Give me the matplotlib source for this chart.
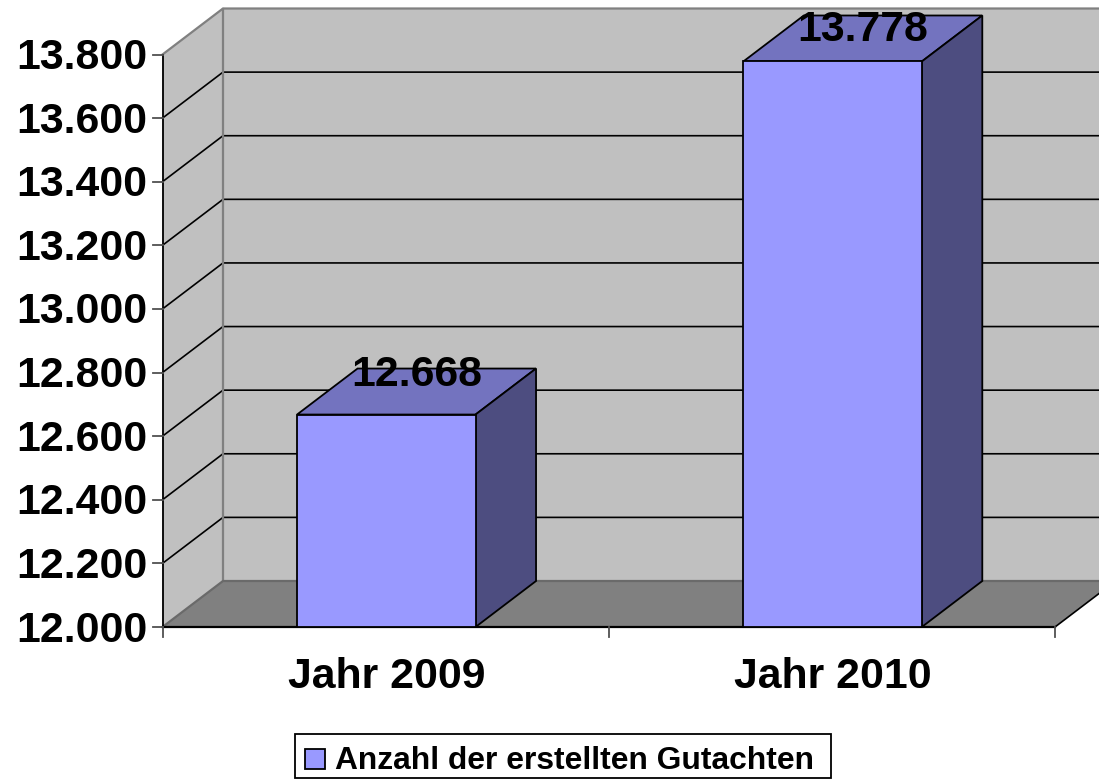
import matplotlib
matplotlib.use("Agg")
import matplotlib.pyplot as plt
from matplotlib.patches import Rectangle

categories = ["Jahr 2009", "Jahr 2010"]
values = [12668, 13778]
value_labels = ["12.668", "13.778"]
y_ticks = [12000, 12200, 12400, 12600, 12800, 13000, 13200, 13400, 13600, 13800]
y_tick_labels = ["12.000", "12.200", "12.400", "12.600", "12.800", "13.000", "13.200", "13.400", "13.600", "13.800"]
series_name = "Anzahl der erstellten Gutachten"

W, H = 1099, 780
plt.rcParams["font.family"] = ["Liberation Sans", "DejaVu Sans"]
plt.rcParams["font.weight"] = "bold"

fig = plt.figure(figsize=(W / 100, H / 100), dpi=100, facecolor="white")
# front plane of the fake 3d box, in pixels
left, right, top, bottom = 162.5, 1055.0, 54.5, 627.0
ax = fig.add_axes([left / W, 1 - bottom / H, (right - left) / W, (bottom - top) / H])
ax.set_xlim(0, 2)
ax.set_ylim(12000, 13800)
ax.axis("off")

# depth of the box in data units
dx = 2 * 60.5 / (right - left)
dy = 1800 * 46 / (bottom - top)
y0, y1 = 12000, 13800

wall = "#C0C0C0"
floor = "#808080"
edge = "#808080"
grid = "#000000"
front = "#9999FF"
roof = "#7373BF"
side = "#4D4D80"

# side wall, back wall, floor
ax.fill([0, dx, dx, 0], [y0, y0 + dy, y1 + dy, y1], color=wall, lw=0, clip_on=False, zorder=1)
ax.fill([dx, 2 + dx, 2 + dx, dx], [y0 + dy, y0 + dy, y1 + dy, y1 + dy], color=wall, lw=0, clip_on=False, zorder=1)
ax.fill([0, 2, 2 + dx, dx], [y0, y0, y0 + dy, y0 + dy], color=floor, lw=0, clip_on=False, zorder=2)

# grid lines on the walls
for t in y_ticks[1:-1]:
    ax.plot([0, dx, 2 + dx], [t, t + dy, t + dy], color=grid, lw=1.2, clip_on=False, zorder=3)
ax.plot([0, dx, 2 + dx], [y1, y1 + dy, y1 + dy], color=edge, lw=1.6, clip_on=False, zorder=3)
ax.plot([dx, dx], [y0 + dy, y1 + dy], color=edge, lw=1.6, clip_on=False, zorder=3)
ax.plot([0, dx, 2 + dx], [y0, y0 + dy, y0 + dy], color="#6a6a6a", lw=1.6, clip_on=False, zorder=3)
ax.plot([2, 2 + dx], [y0, y0 + dy], color="black", lw=1.2, clip_on=False, zorder=3)

# axis lines and ticks
ax.plot([0, 0], [y0, y1], color="black", lw=1.3, clip_on=False, zorder=4)
ax.plot([0, 2], [y0, y0], color="black", lw=1.6, clip_on=False, zorder=4)
tick_dx = 2 * 9.5 / (right - left)
tick_dy = 1800 * 9.5 / (bottom - top)
for t, lab in zip(y_ticks, y_tick_labels):
    ax.plot([-tick_dx, 0], [t, t], color="#505050", lw=1.3, clip_on=False, zorder=4)
    ax.annotate(lab, (0, t), xytext=(-15 * 0.72, -3.5 * 0.72), textcoords="offset points", ha="right", va="center",
                fontsize=30.8, color="black", annotation_clip=False, zorder=6)
for x in [0, 1, 2]:
    ax.plot([x, x], [y0, y0 - tick_dy], color="#505050", lw=1.3, clip_on=False, zorder=4)

# bars
bar_w = 0.4
for i, (cat, val, vlab) in enumerate(zip(categories, values, value_labels)):
    c = i + 0.5015
    l, r = c - bar_w / 2, c + bar_w / 2
    ax.fill([l, r, r + dx, l + dx], [val, val, val + dy, val + dy], facecolor=roof, edgecolor="black", lw=1.3, clip_on=False, zorder=5)
    ax.fill([r, r + dx, r + dx, r], [y0, y0 + dy, val + dy, val], facecolor=side, edgecolor="black", lw=1.3, clip_on=False, zorder=5)
    ax.bar(c, val - y0, bottom=y0, width=bar_w, color=front, edgecolor="black", lw=1.3, clip_on=False, zorder=5)
    ax.annotate(cat, (c, y0), xytext=(0, -50 * 0.72), textcoords="offset points", ha="center", va="center",
                fontsize=30.8, color="black", annotation_clip=False, zorder=6)
    # labels sit near the back edge of the roof, the tall one is pushed down a bit
    off = [-6, -15][i]
    ax.annotate(vlab, (c + dx / 2, val + dy), xytext=(0, off * 0.72), textcoords="offset points", ha="center", va="center",
                fontsize=30.8, color="black", annotation_clip=False, zorder=7)

# legend box, drawn by hand to match the pixel layout
fig.add_artist(Rectangle((294.5 / W, 1 - 778 / H), 536 / W, 44 / H, transform=fig.transFigure,
                         facecolor="white", edgecolor="black", lw=1.3))
fig.add_artist(Rectangle((305 / W, 1 - 769 / H), 20 / W, 20 / H, transform=fig.transFigure,
                         facecolor=front, edgecolor="black", lw=1.3))
fig.text(335 / W, 1 - 761 / H, series_name, ha="left", va="center", fontsize=22.9, color="black")

fig.savefig("out.png", dpi=100, facecolor="white")
